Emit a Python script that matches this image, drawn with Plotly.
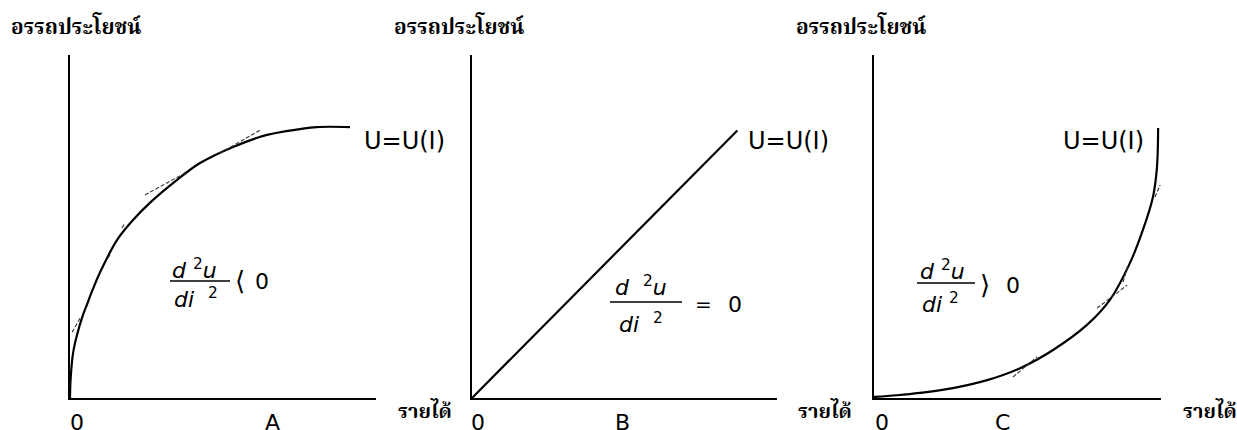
import plotly.graph_objects as go

W, H = 1237, 430

# ---------------- data ----------------
# Panel A: concave utility of income (risk averse)
a_income = [0, 0.02, 0.10, 0.23, 0.39, 0.56, 0.75, 0.98, 1.54, 2.06, 2.61, 3.50, 4.25, 5.33, 6.44, 7.52, 8.07, 9.15]
a_utility = [0, 0.55, 1.31, 1.84, 2.33, 2.74, 3.18, 3.66, 4.61, 5.19, 5.69, 6.36, 6.85, 7.32, 7.67, 7.84, 7.90, 7.90]
# Panel B: linear utility (risk neutral)
b_income = [0, 8.7]
b_utility = [0, 7.8]
# Panel C: convex utility (risk lover)
c_income = [0.0, 0.8, 1.60, 2.75, 3.94, 5.09, 6.24, 7.42, 8.22, 8.92, 9.37, 9.72, 9.86, 9.90]
c_utility = [0.03, 0.08, 0.15, 0.29, 0.52, 0.87, 1.40, 2.13, 2.86, 3.94, 4.90, 5.86, 6.73, 7.87]

# thin tangent strokes: (x0, y0, x1, y1)
a_tangents = [(0.07, 1.92, 0.33, 2.33), (1.24, 4.08, 1.31, 4.17), (1.70, 4.96, 1.80, 5.10),
              (2.45, 5.92, 3.76, 6.56), (4.90, 7.14, 6.21, 7.81)]
c_tangents = [(4.84, 0.61, 5.68, 1.20), (7.77, 2.62, 8.82, 3.29),
              (8.68, 3.38, 8.85, 3.88), (9.79, 5.86, 9.97, 6.21)]

y_title = "อรรถประโยชน์"
x_title = "รายได้"
curve_label = "U=U(I)"
panel_letters = ["A", "B", "C"]
origin_label = "0"

# ---------------- helpers ----------------
def px(x):
    return x / W

def py(y):
    return 1 - y / H

thai_font = "Noto Serif Thai, Noto Sans Thai, Loma, Garuda, sans-serif"
latin_font = "DejaVu Sans, Verdana, sans-serif"

fig = go.Figure()

panels = [
    dict(x=a_income, y=a_utility, left=70, right=376),
    dict(x=b_income, y=b_utility, left=472, right=777),
    dict(x=c_income, y=c_utility, left=874, right=1161),
]
top, bottom = 55, 398

for i, p in enumerate(panels):
    n = "" if i == 0 else str(i + 1)
    fig.add_trace(go.Scatter(
        x=p["x"], y=p["y"], mode="lines",
        line=dict(color="black", width=2.2, shape="spline", smoothing=1.0),
        xaxis="x" + n, yaxis="y" + n, hoverinfo="skip", showlegend=False,
        cliponaxis=False,
    ))
    fig.layout["xaxis" + n] = dict(
        domain=[px(p["left"]), px(p["right"])], range=[0, 10],
        showline=True, linecolor="black", linewidth=2.2,
        showgrid=False, zeroline=False, showticklabels=False, ticks="",
        anchor="y" + n, fixedrange=True,
    )
    fig.layout["yaxis" + n] = dict(
        domain=[py(bottom), py(top)], range=[0, 10],
        showline=True, linecolor="black", linewidth=2.2,
        showgrid=False, zeroline=False, showticklabels=False, ticks="",
        anchor="x" + n, fixedrange=True,
    )

for tangents, n in [(a_tangents, ""), (c_tangents, "3")]:
    for (x0, y0, x1, y1) in tangents:
        fig.add_trace(go.Scatter(
            x=[x0, x1], y=[y0, y1], mode="lines",
            line=dict(color="#333333", width=1.1, dash="4px,2px"),
            xaxis="x" + n, yaxis="y" + n, hoverinfo="skip", showlegend=False,
        ))

ann = []
shapes = []

def text(x, y, s, size, font=latin_font, xanchor="center", yanchor="middle", color="black"):
    ann.append(dict(x=px(x), y=py(y), xref="paper", yref="paper", text=s,
                    showarrow=False, xanchor=xanchor, yanchor=yanchor,
                    font=dict(family=font, size=size, color=color)))

# titles
for left in [9, 392, 794]:
    text(left, 29, "<b>" + y_title + "</b>", 21, font=thai_font, xanchor="left")
# x titles
for left in [396, 796, 1181]:
    text(left, 413, "<b>" + x_title + "</b>", 20, font=thai_font, xanchor="left")
# curve labels
for left in [362, 746, 1061]:
    text(left, 141, curve_label, 24, xanchor="left")
# origin + letter labels
for x0, xl, letter in zip([77, 478, 882], [272, 622, 1002], panel_letters):
    text(x0, 422, origin_label, 22)
    text(xl, 422, letter, 22)

# formulas
def fraction(cx_num, y_num, cx_den, y_den, bar_x0, bar_x1, bar_y, num_sp, den_sp):
    text(cx_num, y_num, "<i>d</i>" + num_sp + "<sup>2</sup><i>u</i>", 22)
    text(cx_den, y_den, "<i>di</i>" + den_sp + "<sup>2</sup>", 22)
    shapes.append(dict(type="line", xref="paper", yref="paper",
                       x0=px(bar_x0), x1=px(bar_x1), y0=py(bar_y), y1=py(bar_y),
                       line=dict(color="black", width=1.5)))

fraction(194, 269, 196, 298, 170, 230, 281, "\u00a0", "\u00a0\u00a0")
text(240, 281, "⟨", 26)
text(262, 281, "0", 22)

fraction(641, 286, 641, 323, 610, 682, 302, "\u00a0\u00a0", "\u00a0\u00a0")
text(703, 304, "=", 20)
text(735, 304, "0", 22)

fraction(942, 270, 940, 303, 917, 975, 283, "\u00a0", "\u00a0")
text(985, 285, "⟩", 26)
text(1013, 285, "0", 22)

fig.update_layout(
    width=W, height=H, margin=dict(l=0, r=0, t=0, b=0),
    paper_bgcolor="white", plot_bgcolor="white",
    annotations=ann, shapes=shapes, showlegend=False,
)

fig.write_html("out.html", config={"displayModeBar": False},
               post_script="document.body.style.margin='0';")
